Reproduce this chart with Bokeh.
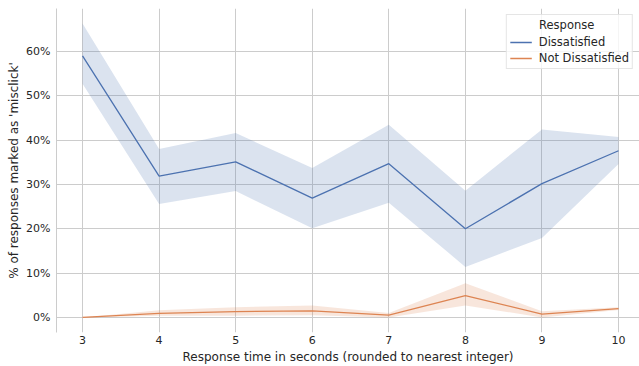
from bokeh.plotting import figure
from bokeh.models import Range1d, FixedTicker, PrintfTickFormatter
from bokeh.embed import file_html
from bokeh.resources import INLINE

seconds = [3, 4, 5, 6, 7, 8, 9, 10]

dis_mean = [59.0, 31.9, 35.1, 26.9, 34.7, 20.0, 30.2, 37.6]
dis_upper = [66.3, 38.0, 41.6, 33.7, 43.5, 28.6, 42.4, 40.7]
dis_lower = [52.7, 25.6, 28.5, 20.1, 25.9, 11.4, 17.9, 34.6]

nd_mean = [0.0, 0.9, 1.3, 1.5, 0.5, 4.9, 0.75, 2.0]
nd_upper = [0.0, 1.6, 2.3, 2.7, 1.0, 7.7, 1.4, 2.3]
nd_lower = [0.0, 0.4, 0.4, 0.5, 0.0, 2.7, 0.0, 1.7]

y_ticks = [0, 10, 20, 30, 40, 50, 60]
series_names = ["Dissatisfied", "Not Dissatisfied"]
x_title = "Response time in seconds (rounded to nearest integer)"
y_title = "% of responses marked as 'misclick'"

BLUE = "#4c72b0"
ORANGE = "#dd8452"
TXT = "#262626"
GRID = "#cccccc"
FONT = "DejaVu Sans"

p = figure(width=639, height=366, output_backend="svg", toolbar_location=None,
           x_range=Range1d(2.66, 10.274), y_range=Range1d(-3.4, 69.7),
           min_border_left=56, min_border_right=0, min_border_top=8, min_border_bottom=0)
p.outline_line_color = None
p.background_fill_color = "white"
p.border_fill_color = "white"

p.varea(x=seconds, y1=dis_lower, y2=dis_upper, fill_color=BLUE, fill_alpha=0.2)
p.varea(x=seconds, y1=nd_lower, y2=nd_upper, fill_color=ORANGE, fill_alpha=0.2)
p.line(seconds, dis_mean, line_color=BLUE, line_width=1.3, legend_label=series_names[0])
p.line(seconds, nd_mean, line_color=ORANGE, line_width=1.3, legend_label=series_names[1])

p.xaxis.ticker = FixedTicker(ticks=seconds)
p.yaxis.ticker = FixedTicker(ticks=y_ticks)
p.yaxis.formatter = PrintfTickFormatter(format="%d%%")

for ax in (p.xaxis[0], p.yaxis[0]):
    ax.major_tick_line_color = None
    ax.minor_tick_line_color = None
    ax.major_tick_out = 0
    ax.major_tick_in = 0
    ax.major_label_text_font = FONT
    ax.major_label_text_font_size = "11px"
    ax.major_label_text_color = TXT
    ax.axis_label_text_font = FONT
    ax.axis_label_text_font_size = "12px"
    ax.axis_label_text_font_style = "normal"
    ax.axis_label_text_color = TXT

p.xaxis.major_label_standoff = 3
p.xaxis.axis_label_standoff = 3
p.yaxis.major_label_standoff = 6
p.yaxis.axis_label_standoff = 2

p.xaxis.axis_line_color = None
p.yaxis.axis_line_color = GRID
p.xaxis.axis_label = x_title
p.yaxis.axis_label = y_title

p.xgrid.grid_line_color = GRID
p.ygrid.grid_line_color = GRID

legend = p.legend[0]
legend.location = "top_right"
legend.title = "\u00a0" * 8 + "Response"
legend.title_text_font = FONT
legend.title_text_font_size = "11.5px"
legend.title_text_font_style = "normal"
legend.title_text_color = TXT
legend.title_standoff = 3
legend.label_text_font = FONT
legend.label_text_font_size = "11.5px"
legend.label_text_color = TXT
legend.border_line_color = GRID
legend.background_fill_color = "white"
legend.background_fill_alpha = 0.8
legend.glyph_width = 22
legend.glyph_height = 14
legend.label_height = 14
legend.spacing = 2
legend.padding = 3
legend.margin = 6
legend.label_standoff = 7

open("out.html", "w").write(file_html(p, INLINE))
